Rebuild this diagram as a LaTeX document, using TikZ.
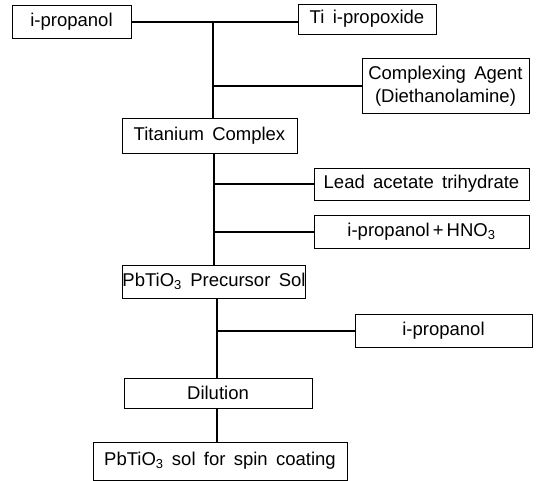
\documentclass[tikz,border=0pt]{standalone}
\usepackage{fontspec}
\setmainfont{Liberation Sans}
\newcommand\myboxfont{\fontsize{18.5}{23}\selectfont\spaceskip=0.45em\relax}
\begin{document}
\begin{tikzpicture}[x=1pt,y=-1pt,
  box/.style={draw,line width=0.9pt,rectangle,inner sep=0pt,align=center,
    font=\myboxfont},
  link/.style={line width=1.1pt}]
\useasboundingbox (0,0) rectangle (540,481);
\node[box,minimum width=119pt,minimum height=33pt] (ip1) at (71.5,22) {i-propanol};
\node[box,minimum width=138pt,minimum height=30pt] (ti) at (367,19) {Ti i-propoxide};
\node[box,minimum width=167pt,minimum height=55pt] (ca) at (445.5,86) {Complexing Agent\\(Diethanolamine)};
\node[box,minimum width=175pt,minimum height=35pt] (tc) at (209.5,135.5) {Titanium Complex};
\node[box,minimum width=215pt,minimum height=32pt] (la) at (421.5,184) {Lead acetate trihydrate};
\node[box,minimum width=215pt,minimum height=33pt] (hno) at (421.5,232) {i-propanol\,+\,HNO\textsubscript{3}};
\node[box,minimum width=182pt,minimum height=33pt] (pre) at (214,281.5) {PbTiO\textsubscript{3} Precursor Sol};
\node[box,minimum width=177pt,minimum height=33pt] (ip2) at (443.5,331) {i-propanol};
\node[box,minimum width=188pt,minimum height=30pt] (dil) at (218,393) {Dilution};
\node[box,minimum width=254pt,minimum height=38pt] (fin) at (220,461) {PbTiO\textsubscript{3} sol for spin coating};
\coordinate (j1) at (213,22);
\coordinate (j2) at (214,153);
\coordinate (j3) at (217,298);
\draw[link] (ip1.east) -- (ip1.east -| ti.west);
\draw[link] (j1) -- (j1 |- tc.north);
\draw[link] (j1 |- ca.west) -- (ca.west);
\draw[link] (j2 |- tc.south) -- (j2 |- pre.north);
\draw[link] (j2 |- la.west) -- (la.west);
\draw[link] (j2 |- hno.west) -- (hno.west);
\draw[link] (j3 |- pre.south) -- (j3 |- dil.north);
\draw[link] (j3 |- ip2.west) -- (ip2.west);
\draw[link] (j3 |- dil.south) -- (j3 |- fin.north);
\end{tikzpicture}
\end{document}
